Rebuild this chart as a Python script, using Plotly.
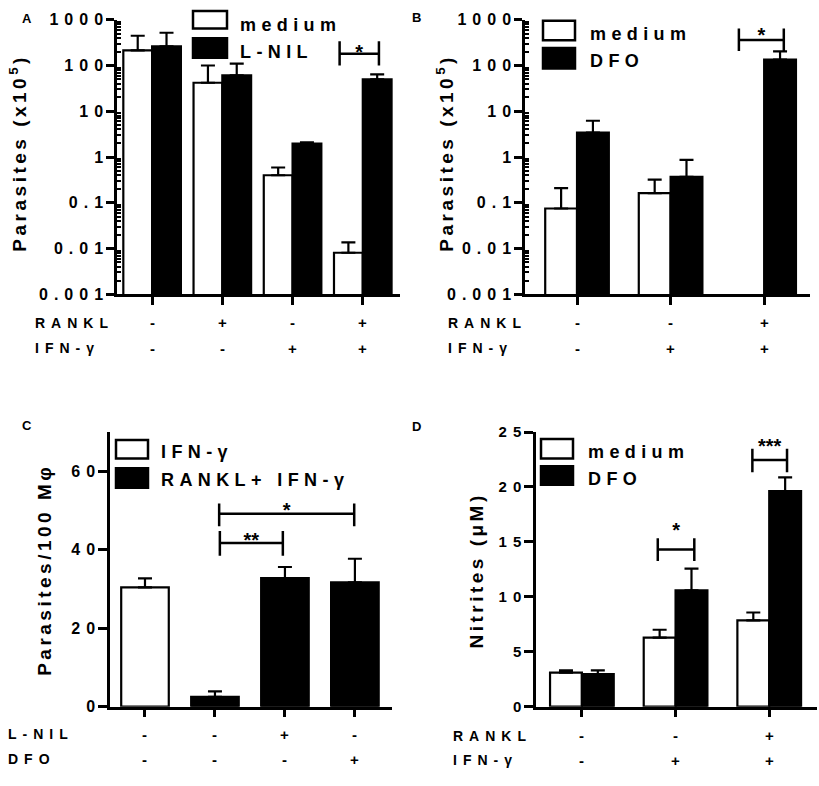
import plotly.graph_objects as go

W, H = 819, 786
FONT = "Liberation Sans, Arial, sans-serif"

# ---------------- data ----------------
# Panel A (log scale, parasites x10^5)
a_x = [0, 1, 2, 3]
a_rankl = ["-", "+", "-", "+"]
a_ifng = ["-", "-", "+", "+"]
a_medium = [214, 42, 0.40, 0.0081]
a_medium_top = [447, 100, 0.59, 0.0136]
a_lnil = [261, 61, 1.96, 49.7]
a_lnil_top = [520, 110, 2.10, 64]
a_sig = [(2.67, 3.23, 181, 100, 339, 179, "*")]

# Panel B (log scale)
b_x = [0, 1, 2]
b_rankl = ["-", "-", "+"]
b_ifng = ["-", "+", "+"]
b_medium = [0.075, 0.162, None]
b_medium_top = [0.21, 0.32, None]
b_dfo = [3.4, 0.37, 135]
b_dfo_top = [6.2, 0.87, 204]
b_sig = [(1.73, 2.21, 361, 208, 642, 425, "*")]

# Panel C (parasites / 100 Mphi)
c_x = [0, 1, 2, 3]
c_lnil = ["-", "-", "+", "-"]
c_dfo = ["-", "-", "-", "+"]
c_ifng = [30.4, None, None, None]
c_ifng_top = [32.7, None, None, None]
c_rankl_ifng = [None, 2.5, 32.75, 31.7]
c_rankl_ifng_top = [None, 3.9, 35.6, 37.7]
c_sig = [(1.07, 1.97, 41.7, 38.5, 44.75, 42.0, "**"),
         (1.06, 2.99, 49.2, 46.0, 51.8, 49.5, "*")]

# Panel D (nitrites uM)
d_x = [0, 1, 2]
d_rankl = ["-", "-", "+"]
d_ifng = ["-", "+", "+"]
d_medium = [3.09, 6.29, 7.86]
d_medium_top = [3.3, 7.0, 8.57]
d_dfo = [2.96, 10.59, 19.63]
d_dfo_top = [3.3, 12.57, 20.88]
d_sig = [(0.81, 1.20, 14.3, 13.26, 15.33, 15.86, "*"),
         (1.82, 2.19, 22.45, 21.35, 23.49, 23.54, "***")]

log_vals = [0.001, 0.01, 0.1, 1, 10, 100, 1000]
log_text = ["0.001", "0.01", "0.1", "1", "10", "100", "1000"]
log_minor = [m * 10.0 ** k for k in range(-3, 3) for m in range(2, 10)]


def px(x):
    return x / W


def py(y):
    return 1 - y / H


def plus(vals, tops):
    return [(t - v) if v is not None else 0 for v, t in zip(vals, tops)]


fig = go.Figure()


def add_bar(x, vals, tops, color, width, offset, xa, ya):
    fig.add_trace(go.Bar(
        x=x, y=vals, width=width, offset=offset,
        marker=dict(color=color, line=dict(color="black", width=2.2)),
        error_y=dict(type="data", symmetric=False, array=plus(vals, tops),
                     arrayminus=[0] * len(vals), color="black",
                     thickness=2.2, width=7),
        xaxis=xa, yaxis=ya, showlegend=False,
    ))


def add_sig(sigs, xa, ya):
    for x0, x1, ym, lo, hi, ys, lab in sigs:
        fig.add_trace(go.Scatter(
            x=[x0, x0, None, x0, x1, None, x1, x1],
            y=[lo, hi, None, ym, ym, None, lo, hi],
            mode="lines", line=dict(color="black", width=2.5),
            xaxis=xa, yaxis=ya, showlegend=False, hoverinfo="skip"))
        fig.add_trace(go.Scatter(
            x=[(x0 + x1) / 2], y=[ys], mode="text", text=[lab],
            textposition="middle center",
            textfont=dict(family=FONT, size=20, color="black", weight="bold"),
            xaxis=xa, yaxis=ya, showlegend=False, hoverinfo="skip",
            cliponaxis=False))


# Panel A
add_bar(a_x, a_medium, a_medium_top, "white", 0.41, -0.41, "x", "y")
add_bar(a_x, a_lnil, a_lnil_top, "black", 0.41, 0.0, "x", "y")
add_sig(a_sig, "x", "y")
# Panel B
add_bar(b_x, b_medium, b_medium_top, "white", 0.34, -0.34, "x2", "y2")
add_bar(b_x, b_dfo, b_dfo_top, "black", 0.34, 0.0, "x2", "y2")
add_sig(b_sig, "x2", "y2")
# Panel C
add_bar(c_x, c_ifng, c_ifng_top, "white", 0.68, -0.34, "x3", "y3")
add_bar(c_x, c_rankl_ifng, c_rankl_ifng_top, "black", 0.68, -0.34, "x3", "y3")
add_sig(c_sig, "x3", "y3")
# Panel D
add_bar(d_x, d_medium, d_medium_top, "white", 0.34, -0.34, "x4", "y4")
add_bar(d_x, d_dfo, d_dfo_top, "black", 0.34, 0.0, "x4", "y4")
add_sig(d_sig, "x4", "y4")


def xax(x0, x1, rng, n, anchor):
    return dict(domain=[px(x0), px(x1)], range=rng, anchor=anchor,
                showline=True, linewidth=2.5, linecolor="black",
                ticks="outside", ticklen=8, tickwidth=2.5, tickcolor="black",
                tickmode="array", tickvals=list(range(n)), showticklabels=False,
                showgrid=False, zeroline=False, fixedrange=True)


def yax_log(y0, y1, anchor):
    return dict(domain=[py(y1), py(y0)], type="log", range=[-3, 3], anchor=anchor,
                showline=True, linewidth=2.5, linecolor="black",
                ticks="outside", ticklen=8, tickwidth=2.5, tickcolor="black",
                tickmode="array", tickvals=log_vals, ticktext=log_text,
                tickfont=dict(family=FONT, size=16, color="black", weight="bold"),
                minor=dict(tickmode="array", tickvals=log_minor, ticks="inside",
                           ticklen=4, tickwidth=1.5, tickcolor="black", showgrid=False),
                showgrid=False, zeroline=False, fixedrange=True)


def yax_lin(y0, y1, rng, vals, size, anchor):
    return dict(domain=[py(y1), py(y0)], range=rng, anchor=anchor,
                showline=True, linewidth=2.5, linecolor="black",
                ticks="outside", ticklen=9, tickwidth=2.5, tickcolor="black",
                tickmode="array", tickvals=vals,
                tickfont=dict(family=FONT, size=size, color="black", weight="bold"),
                showgrid=False, zeroline=False, fixedrange=True)


fig.update_layout(
    width=W, height=H, margin=dict(l=0, r=0, t=0, b=0),
    paper_bgcolor="white", plot_bgcolor="white",
    font=dict(family=FONT, color="black"),
    barmode="overlay",
    xaxis=xax(117, 400, [-0.5, 3.53], 4, "y"),
    yaxis=yax_log(11, 292, "x"),
    xaxis2=xax(525, 810, [-0.556, 2.49], 3, "y2"),
    yaxis2=yax_log(11, 292, "x2"),
    xaxis3=xax(110, 392, [-0.5, 3.53], 4, "y3"),
    yaxis3=yax_lin(433, 714, [0, 70], [0, 20, 40, 60], 16, "x3"),
    xaxis4=xax(536, 817, [-0.49, 2.51], 3, "y4"),
    yaxis4=yax_lin(433, 714, [0, 25], [0, 5, 10, 15, 20, 25], 15, "x4"),
)

ann = []
shapes = []


def txt(x, y, s, size, xanchor="left", xref="paper", angle=0):
    ann.append(dict(x=x, y=y, xref=xref, yref="paper", text=s, showarrow=False,
                    xanchor=xanchor, yanchor="middle",
                    align=xanchor if xanchor != "center" else "center",
                    textangle=angle,
                    font=dict(family=FONT, size=size, color="black", weight="bold")))


def legend(x0, x1, boxes, textx, labels, texty):
    for (y0, y1), col in zip(boxes, ["white", "black"]):
        shapes.append(dict(type="rect", xref="paper", yref="paper",
                           x0=px(x0), x1=px(x1), y0=py(y1), y1=py(y0),
                           fillcolor=col, line=dict(color="black", width=2.5)))
    for lab, ty in zip(labels, texty):
        txt(px(textx), py(ty), lab, 18)


legend(193, 227, [(2, 20), (30, 50)], 238, ["medium", "L-NIL"], [16, 44])
legend(543, 575, [(12, 32), (40, 61)], 588, ["medium", "DFO"], [26, 53])
legend(116, 148, [(441, 460), (470, 490)], 159, ["IFN-γ", "RANKL+ IFN-γ"], [453, 482])
legend(541, 573, [(440, 460), (468, 487)], 586, ["medium", "DFO"], [453, 481])

# axis titles
txt(px(18), py(147), "Parasites (x10<sup>5</sup>)", 19, "center", angle=-90)
txt(px(445), py(147), "Parasites (x10<sup>5</sup>)", 19, "center", angle=-90)
txt(px(45), py(574), "Parasites/100 Mφ", 19, "center", angle=-90)
txt(px(477), py(575), "Nitrites (μM)", 19, "center", angle=-90)

# panel letters
for lx, ly, L in [(27, 10, "A"), (416, 9, "B"), (27, 426, "C"), (416, 427, "D")]:
    txt(px(lx), py(ly), L, 13, "center")


# condition rows below the x axes
def rows(xa, xs, labels, rowvals, xlab, ys):
    for lab, vals, yy in zip(labels, rowvals, ys):
        txt(px(xlab), py(yy), lab, 14)
        for xi, v in zip(xs, vals):
            txt(xi, py(yy), v, 15, "center", xref=xa)


rows("x", a_x, ["RANKL", "IFN-γ"], [a_rankl, a_ifng], 33, [321, 347])
rows("x2", b_x, ["RANKL", "IFN-γ"], [b_rankl, b_ifng], 446, [321, 347])
rows("x3", c_x, ["L-NIL", "DFO"], [c_lnil, c_dfo], 6, [742, 768])
rows("x4", d_x, ["RANKL", "IFN-γ"], [d_rankl, d_ifng], 451, [744, 769])

fig.update_layout(annotations=ann, shapes=shapes)

post = """
document.documentElement.style.margin = '0';
document.body.style.margin = '0';
document.body.style.padding = '0';
document.body.style.overflow = 'hidden';
function ls(){
  var root = document.getElementById('{plot_id}');
  if(!root) return;
  root.querySelectorAll('text').forEach(function(t){
    var s = t.textContent || '';
    if(s.length < 2 || s.indexOf('*') >= 0) return;
    var fs = parseFloat(t.style.fontSize || '12');
    var sp = 6;
    if(fs >= 19){ sp = 3.5; }
    else if(fs >= 17){ sp = 5.4; }
    t.style.letterSpacing = sp + 'px';
    if(t.getAttribute('text-anchor') === 'end' && !t.getAttribute('data-lsfix')){
      var x = parseFloat(t.getAttribute('x') || '0');
      t.setAttribute('x', x + sp);
      t.setAttribute('data-lsfix', '1');
    }
  });
}
ls(); setTimeout(ls, 30); setTimeout(ls, 300);
var gd = document.getElementById('{plot_id}');
if(gd && gd.on){ gd.on('plotly_afterplot', ls); }
"""

fig.write_html("out.html", post_script=post, config={"displayModeBar": False})
